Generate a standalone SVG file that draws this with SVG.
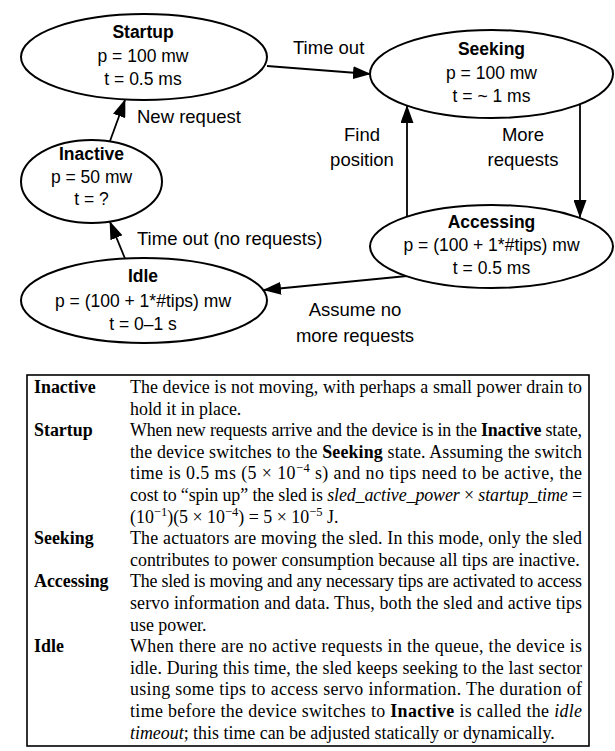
<svg xmlns="http://www.w3.org/2000/svg" width="615" height="751" viewBox="0 0 615 751">
<style>
.node ellipse{fill:#fff;stroke:#000;stroke-width:2}
.nt{font-family:"Liberation Sans",Arial,sans-serif;font-size:17.5px;text-anchor:middle;fill:#000}
.nb{font-weight:bold}
.lbl{font-family:"Liberation Sans",Arial,sans-serif;font-size:18.5px;fill:#000}
.mid{text-anchor:middle}
.edges path{fill:none;stroke:#000;stroke-width:1.8}
.tt{font-family:"Liberation Serif","Times New Roman",serif;font-size:17.9px;fill:#000}
.tb{font-weight:bold}
.ti{font-style:italic}
</style>
<defs>
<marker id="arr" markerWidth="18" markerHeight="13" refX="17" refY="6.5" orient="auto" markerUnits="userSpaceOnUse">
<path d="M0,0 L18,6.5 L0,13 z" fill="#000"/>
</marker>
</defs>
<g class="edges">
<path d="M267,66 L370,74" marker-end="url(#arr)"/>
<path d="M110,141 L125,100" marker-end="url(#arr)"/>
<path d="M125,258.5 L110,222" marker-end="url(#arr)"/>
<path d="M407,216.5 L407,106" marker-end="url(#arr)"/>
<path d="M580,104 L580,217" marker-end="url(#arr)"/>
<path d="M407,276 L264,290" marker-end="url(#arr)"/>
</g>
<g id="startup" class="node">
<ellipse cx="144" cy="57" rx="123" ry="43"/>
<text class="nt nb" x="143" y="38">Startup</text>
<text class="nt" x="143" y="62">p = 100 mw</text>
<text class="nt" x="143" y="85">t = 0.5 ms</text>
</g>
<g id="seeking" class="node">
<ellipse cx="491.5" cy="74" rx="121.5" ry="44"/>
<text class="nt nb" x="491.5" y="55">Seeking</text>
<text class="nt" x="491.5" y="79">p = 100 mw</text>
<text class="nt" x="491.5" y="102">t = ~ 1 ms</text>
</g>
<g id="inactive" class="node">
<ellipse cx="91.5" cy="181.5" rx="70.5" ry="41.5"/>
<text class="nt nb" x="91.5" y="160">Inactive</text>
<text class="nt" x="91.5" y="183">p = 50 mw</text>
<text class="nt" x="91.5" y="205">t = ?</text>
</g>
<g id="accessing" class="node">
<ellipse cx="491.5" cy="246.5" rx="121.5" ry="41.5"/>
<text class="nt nb" x="491.5" y="228">Accessing</text>
<text class="nt" x="491.5" y="251">p = (100 + 1*#tips) mw</text>
<text class="nt" x="491.5" y="274">t = 0.5 ms</text>
</g>
<g id="idle" class="node">
<ellipse cx="144" cy="300.5" rx="123" ry="42.5"/>
<text class="nt nb" x="143" y="282">Idle</text>
<text class="nt" x="143" y="307">p = (100 + 1*#tips) mw</text>
<text class="nt" x="143" y="330">t = 0–1 s</text>
</g>
<g id="edge-labels">
<text class="lbl" x="293" y="54">Time out</text>
<text class="lbl" x="137" y="123">New request</text>
<text class="lbl mid" x="362" y="141">Find</text>
<text class="lbl mid" x="362" y="166">position</text>
<text class="lbl mid" x="523" y="141">More</text>
<text class="lbl mid" x="523" y="166">requests</text>
<text class="lbl" x="137" y="245">Time out (no requests)</text>
<text class="lbl mid" x="355" y="316">Assume no</text>
<text class="lbl mid" x="355" y="342">more requests</text>
</g>
<g id="table">
<rect x="27" y="375" width="562" height="371" fill="none" stroke="#000" stroke-width="1.6"/>
<text class="tt tb" x="34" y="393">Inactive</text>
<text class="tt" x="130" y="393" textLength="452" lengthAdjust="spacing">The device is not moving, with perhaps a small power drain to</text>
<text class="tt" x="130" y="414.6">hold it in place.</text>
<text class="tt tb" x="34" y="436.2">Startup</text>
<text class="tt" x="130" y="436.2" textLength="452" lengthAdjust="spacing">When new requests arrive and the device is in the <tspan class="tb">Inactive</tspan> state,</text>
<text class="tt" x="130" y="457.8" textLength="452" lengthAdjust="spacing">the device switches to the <tspan class="tb">Seeking</tspan> state.  Assuming the switch</text>
<text class="tt" x="130" y="479.4" textLength="452" lengthAdjust="spacing">time is 0.5 ms (5 × 10<tspan dy="-7" font-size="12.5">−4</tspan><tspan dy="7"> s) and no tips need to be active, the</tspan></text>
<text class="tt" x="130" y="501" textLength="452" lengthAdjust="spacing">cost to “spin up” the sled is <tspan class="ti">sled_active_power</tspan> × <tspan class="ti">startup_time</tspan> =</text>
<text class="tt" x="130" y="522.6">(10<tspan dy="-7" font-size="12.5">−1</tspan><tspan dy="7">)(5 × 10</tspan><tspan dy="-7" font-size="12.5">−4</tspan><tspan dy="7">) = 5 × 10</tspan><tspan dy="-7" font-size="12.5">−5</tspan><tspan dy="7"> J.</tspan></text>
<text class="tt tb" x="34" y="544.2">Seeking</text>
<text class="tt" x="130" y="544.2" textLength="452" lengthAdjust="spacing">The actuators are moving the sled.  In this mode, only the sled</text>
<text class="tt" x="130" y="565.8">contributes to power consumption because all tips are inactive.</text>
<text class="tt tb" x="34" y="587.4">Accessing</text>
<text class="tt" x="130" y="587.4" textLength="452" lengthAdjust="spacing">The sled is moving and any necessary tips are activated to access</text>
<text class="tt" x="130" y="609" textLength="452" lengthAdjust="spacing">servo information and data.  Thus, both the sled and active tips</text>
<text class="tt" x="130" y="630.6">use power.</text>
<text class="tt tb" x="34" y="652.2">Idle</text>
<text class="tt" x="130" y="652.2" textLength="452" lengthAdjust="spacing">When there are no active requests in the queue, the device is</text>
<text class="tt" x="130" y="673.8" textLength="452" lengthAdjust="spacing">idle.  During this time, the sled keeps seeking to the last sector</text>
<text class="tt" x="130" y="695.4" textLength="452" lengthAdjust="spacing">using some tips to access servo information.  The duration of</text>
<text class="tt" x="130" y="717" textLength="452" lengthAdjust="spacing">time before the device switches to <tspan class="tb">Inactive</tspan> is called the <tspan class="ti">idle</tspan></text>
<text class="tt" x="130" y="738.6"><tspan class="ti">timeout</tspan>; this time can be adjusted statically or dynamically.</text>
</g>
</svg>
